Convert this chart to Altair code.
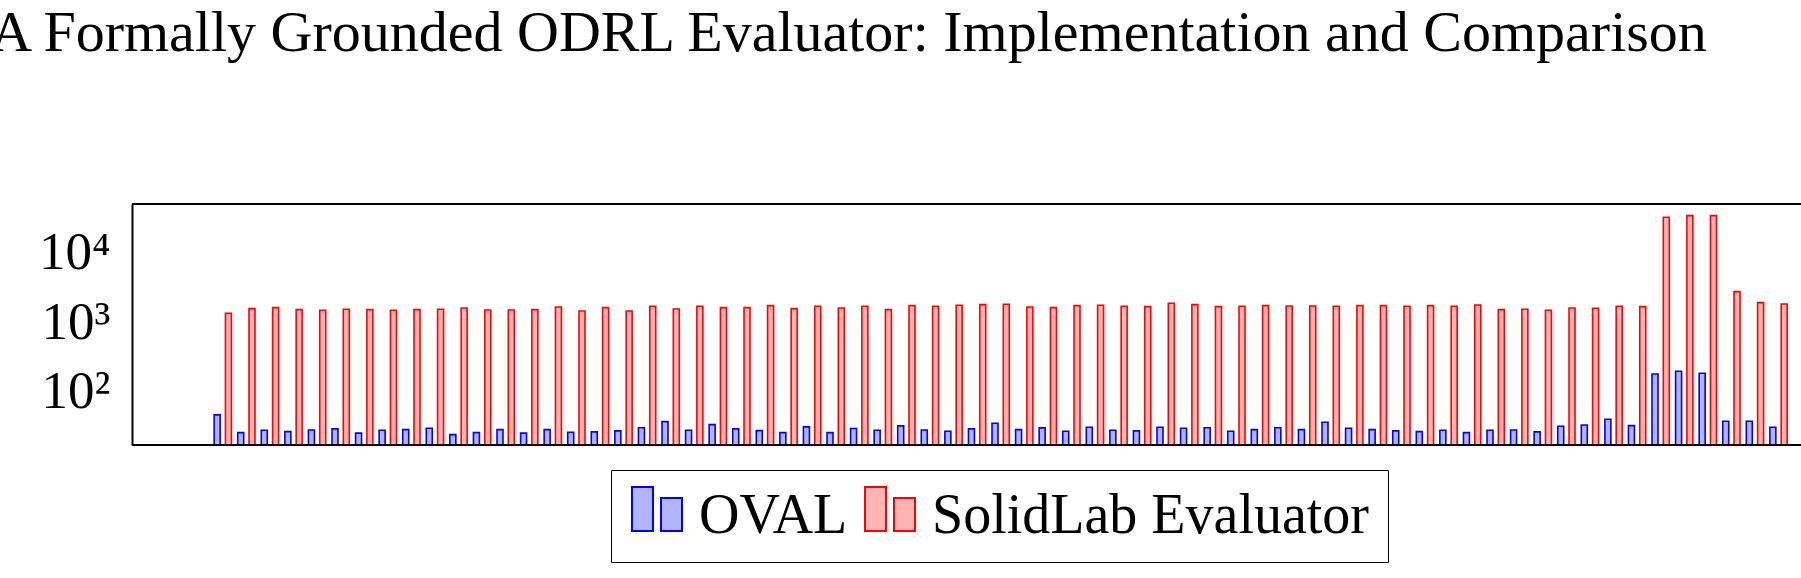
import altair as alt
import pandas as pd

FONT = "Liberation Serif"

title_text = "A Formally Grounded ODRL Evaluator: Implementation and Comparison"
series = ["OVAL", "SolidLab Evaluator"]
fill_colors = ["#b3b3ff", "#ffb3b3"]
stroke_colors = ["#0000ff", "#ff0000"]

tests = list(range(1, 68))
oval = [42.3, 23.5, 25.4, 24.3, 25.7, 26.6, 23.1, 25.4, 26.0, 27.2,
        22.0, 23.5, 26.0, 23.1, 26.0, 23.8, 24.1, 24.9, 27.7, 33.9,
        25.4, 30.6, 26.6, 25.1, 23.5, 28.4, 23.5, 26.9, 25.4, 29.4,
        25.7, 24.6, 26.6, 32.1, 26.0, 27.5, 24.6, 28.1, 25.4, 24.9,
        28.1, 27.2, 27.7, 24.6, 26.0, 27.7, 26.0, 33.2, 27.2, 26.0,
        24.9, 24.3, 25.4, 23.5, 25.4, 25.7, 24.1, 29.0, 30.3, 36.6,
        29.6, 164, 180, 168, 34.3, 34.3, 28.1]
solidlab = [1228, 1430, 1478, 1384, 1355, 1402, 1384, 1355, 1384, 1402,
            1463, 1370, 1370, 1384, 1513, 1325, 1478, 1325, 1549, 1416,
            1549, 1478, 1478, 1581, 1430, 1549, 1463, 1549, 1384, 1581,
            1549, 1600, 1634, 1655, 1513, 1478, 1581, 1600, 1549, 1528,
            1710, 1634, 1528, 1549, 1581, 1564, 1564, 1549, 1581, 1581,
            1549, 1581, 1549, 1617, 1384, 1402, 1355, 1463, 1449, 1549,
            1528, 29580, 31190, 31190, 2512, 1745, 1671]

y_ticks = [100, 1000, 10000]
y_domain = [15.6, 45900]

rows = []
for t, o, s in zip(tests, oval, solidlab):
    rows.append({"test": t, "evaluator": series[0], "ms": o})
    rows.append({"test": t, "evaluator": series[1], "ms": s})
df = pd.DataFrame(rows)

legend_symbol = "M-1,0.6V-1.16H-0.16V0.6Z M0.16,0.6V-0.72H1V0.6Z"

legend_kw = dict(
    title=None,
    orient="none",
    legendX=479,
    legendY=266,
    direction="horizontal",
    columns=2,
    columnPadding=13,
    labelOffset=14,
    labelFont=FONT,
    labelFontSize=56,
    labelColor="black",
    labelLimit=2000,
    symbolType=legend_symbol,
    symbolSize=2500,
    symbolStrokeWidth=2,
    symbolOpacity=1,
    padding=18,
    strokeColor="black",
    fillColor="white",
)

y_scale = alt.Scale(type="log", domain=y_domain, nice=False)

bars = alt.Chart(df).mark_bar(strokeWidth=1.6, opacity=1).encode(
    x=alt.X("test:O", axis=None,
            scale=alt.Scale(range=[79, 1658.3], paddingInner=0, paddingOuter=0)),
    xOffset=alt.XOffset("evaluator:N",
                        scale=alt.Scale(domain=series, paddingInner=0.47, paddingOuter=0.278)),
    y=alt.Y("ms:Q", scale=y_scale,
            axis=alt.Axis(values=y_ticks,
                          labelExpr="datum.value == 100 ? '10²' : datum.value == 1000 ? '10³' : '10⁴'",
                          title=None, domain=True, domainColor="black", domainWidth=2,
                          ticks=False, tickSize=0, grid=False,
                          labelFont=FONT, labelFontSize=53, labelColor="black",
                          labelPadding=22, labelOffset=3)),
    y2=alt.datum(y_domain[0]),
    fill=alt.Fill("evaluator:N", scale=alt.Scale(domain=series, range=fill_colors),
                  legend=alt.Legend(**legend_kw)),
    stroke=alt.Stroke("evaluator:N", scale=alt.Scale(domain=series, range=stroke_colors),
                      legend=alt.Legend(**legend_kw)),
)

frame_df = pd.DataFrame({"k": [0]})
top_line = alt.Chart(frame_df).mark_rule(color="black", strokeWidth=2).encode(
    y=alt.datum(y_domain[1], scale=y_scale))
bottom_line = alt.Chart(frame_df).mark_rule(color="black", strokeWidth=2).encode(
    y=alt.datum(y_domain[0]))

chart = alt.layer(bars, top_line, bottom_line).properties(
    width=1669,
    height=241,
    autosize=alt.AutoSizeParams(type="none"),
    padding={"left": 132, "top": 204, "right": 0, "bottom": 133},
    background="white",
    title=alt.TitleParams(title_text, font=FONT, fontSize=58, fontWeight="normal",
                          color="black", anchor="middle", frame="group",
                          dx=-118, offset=94, baseline="alphabetic"),
).configure_view(stroke=None)

chart.save("out.html", embed_options={"renderer": "svg", "actions": False})
